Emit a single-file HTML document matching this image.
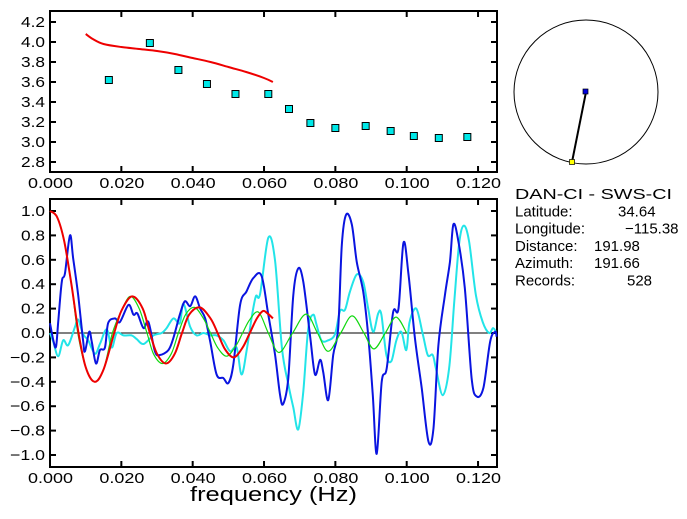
<!DOCTYPE html>
<html><head><meta charset="utf-8"><style>
html,body{margin:0;padding:0;background:#fff;}
svg{display:block;font-family:"Liberation Sans",sans-serif;}
</style></head><body>
<svg id="s" width="687" height="519" viewBox="0 0 687 519"></svg>
<script>
// ---- data ----
const topObsFreq=[0.0165,0.028,0.036,0.044,0.052,0.0612,0.067,0.073,0.080,0.0885,0.0955,0.102,0.109,0.117];
const topObsVel=[3.62,3.99,3.72,3.58,3.48,3.48,3.33,3.19,3.14,3.16,3.11,3.06,3.04,3.05];
const topModelFreq=[0.010,0.012,0.015,0.020,0.025,0.030,0.035,0.040,0.045,0.050,0.055,0.060,0.0625];
const topModelVel=[4.08,4.03,3.98,3.95,3.93,3.91,3.88,3.84,3.80,3.75,3.70,3.64,3.60];
const topYTicks=[2.8,3.0,3.2,3.4,3.6,3.8,4.0,4.2];
const xTicks=[0,0.02,0.04,0.06,0.08,0.10,0.12];
const xTickLabels=["0.000","0.020","0.040","0.060","0.080","0.100","0.120"];
const botYTicks=[-1.0,-0.8,-0.6,-0.4,-0.2,0.0,0.2,0.4,0.6,0.8,1.0];
const redF=[0,0.002,0.004,0.006,0.008,0.010,0.0125,0.015,0.018,0.020,0.023,0.026,0.028,0.030,0.0325,0.035,0.037,0.039,0.042,0.045,0.047,0.049,0.0515,0.054,0.056,0.058,0.0597,0.061,0.0625];
const redV=[1.0,0.95,0.75,0.4,0.0,-0.28,-0.40,-0.3,0.0,0.18,0.30,0.2,0.0,-0.17,-0.25,-0.17,0.0,0.15,0.21,0.12,0.0,-0.13,-0.20,-0.12,0.0,0.12,0.18,0.16,0.12];
const greenF=[0,0.002,0.004,0.006,0.0078,0.010,0.0125,0.015,0.0175,0.020,0.0225,0.025,0.0272,0.029,0.0315,0.034,0.036,0.038,0.0405,0.043,0.045,0.047,0.0495,0.052,0.054,0.056,0.0585,0.0612,0.0642,0.068,0.0718,0.075,0.078,0.0815,0.0847,0.088,0.0908,0.094,0.097,0.100];
const greenV=[1.0,0.95,0.75,0.4,0.0,-0.28,-0.40,-0.3,0.0,0.18,0.30,0.2,0.0,-0.17,-0.25,-0.17,0.0,0.15,0.21,0.12,0.0,-0.12,-0.19,-0.11,0.0,0.11,0.17,0.0,-0.16,0.0,0.155,0.0,-0.15,0.0,0.14,0.0,-0.13,0.0,0.13,0.0];
const blueF=[0,0.001,0.0017,0.0023,0.0033,0.0042,0.0056,0.0065,0.0079,0.0093,0.0098,0.011,0.0117,0.0129,0.014,0.0154,0.0163,0.0182,0.0196,0.022,0.0234,0.0245,0.0262,0.0276,0.0294,0.0308,0.0332,0.0346,0.0364,0.0378,0.0393,0.0407,0.0421,0.0435,0.0449,0.0467,0.0486,0.05,0.0514,0.0533,0.0551,0.057,0.0593,0.0612,0.0631,0.0645,0.0654,0.0668,0.0682,0.0696,0.071,0.0729,0.0743,0.0757,0.0766,0.078,0.0794,0.0808,0.0818,0.083,0.0846,0.086,0.0878,0.0892,0.0905,0.0916,0.093,0.0944,0.0962,0.0977,0.0991,0.1005,0.1023,0.1042,0.1061,0.1075,0.1089,0.1107,0.1121,0.1131,0.1145,0.1163,0.1182,0.1196,0.1215,0.1234,0.1248,0.1252];
const blueV=[0.08,-0.07,-0.11,0.09,0.42,0.49,0.80,0.61,0.31,-0.07,-0.15,0.01,-0.07,-0.25,-0.14,-0.12,0.08,0.12,0.09,0.23,0.15,0.16,0.04,0.09,-0.15,-0.18,-0.14,-0.04,0.15,0.26,0.22,0.30,0.20,0.12,-0.07,-0.34,-0.37,-0.41,-0.26,0.23,0.34,0.45,0.47,0.15,-0.18,-0.51,-0.58,-0.37,0.31,0.53,0.42,-0.02,-0.34,-0.22,-0.32,-0.55,-0.18,0.04,0.72,0.97,0.89,0.58,0.34,-0.02,-0.51,-0.99,-0.40,-0.29,0.17,0.20,0.74,0.48,-0.04,-0.45,-0.89,-0.78,-0.10,0.31,0.58,0.89,0.75,0.37,-0.37,-0.52,-0.45,-0.07,0.01,-0.03];
const cyanF=[0,0.0009,0.0023,0.0037,0.0051,0.007,0.0079,0.0093,0.0107,0.0126,0.014,0.0159,0.0173,0.0187,0.0206,0.0229,0.0243,0.0262,0.029,0.0313,0.0327,0.0346,0.0364,0.0374,0.0393,0.0411,0.043,0.0449,0.0467,0.0486,0.0505,0.0523,0.0537,0.0551,0.0565,0.0577,0.0589,0.0612,0.0631,0.065,0.0668,0.0682,0.0696,0.071,0.0724,0.0738,0.0747,0.0761,0.078,0.0799,0.0813,0.0827,0.0841,0.086,0.0878,0.0892,0.0906,0.092,0.0929,0.0943,0.0957,0.0971,0.0985,0.0999,0.1008,0.1027,0.1045,0.1059,0.1073,0.1082,0.1101,0.1119,0.1133,0.1147,0.116,0.1175,0.1194,0.1213,0.1231,0.1242,0.125];
const cyanV=[0.0,-0.07,-0.19,-0.06,-0.10,0.05,0.11,-0.01,-0.06,-0.17,-0.09,0.03,-0.12,0.0,-0.02,-0.02,-0.05,-0.09,-0.02,0.0,0.04,0.12,0.08,0.24,0.05,-0.02,0.0,-0.02,-0.02,-0.06,-0.15,-0.12,-0.34,-0.15,0.12,0.30,0.32,0.78,0.59,-0.12,-0.42,-0.61,-0.79,-0.48,0.04,0.15,0.07,-0.06,-0.06,-0.01,0.18,0.19,0.34,0.48,0.42,0.20,0.01,0.16,0.15,-0.18,-0.23,-0.06,0.01,-0.14,0.09,0.20,-0.01,-0.18,-0.18,-0.29,-0.51,-0.29,0.24,0.73,0.88,0.75,0.31,0.09,0.0,0.04,0.01];
const infoLabels=["DAN-CI  -  SWS-CI","Latitude:","Longitude:","Distance:","Azimuth:","Records:"];
const infoValues=["","34.64","-115.38","191.98","191.66","528"];

// ---- scales ----
const L=50,R=497;
const xS=f=>L+f*3567;
const yT=v=>142-(v-3)*100;
const yB=v=>333-v*122;
const NS="http://www.w3.org/2000/svg";
const svg=document.getElementById('s');
function mk(tag,attrs,parent){const e=document.createElementNS(NS,tag);for(const k in attrs)e.setAttribute(k,attrs[k]);(parent||svg).appendChild(e);return e;}
function smooth(F,V,ys,color,w,name){
  const P=F.map((f,i)=>[xS(f),ys(V[i])]);
  let d="M"+P[0][0].toFixed(1)+","+P[0][1].toFixed(1);
  for(let i=0;i<P.length-1;i++){
    const p0=P[Math.max(0,i-1)],p1=P[i],p2=P[i+1],p3=P[Math.min(P.length-1,i+2)];
    const c1=[p1[0]+(p2[0]-p0[0])/6,p1[1]+(p2[1]-p0[1])/6];
    const c2=[p2[0]-(p3[0]-p1[0])/6,p2[1]-(p3[1]-p1[1])/6];
    d+=" C"+c1.map(n=>n.toFixed(1)).join(",")+" "+c2.map(n=>n.toFixed(1)).join(",")+" "+p2.map(n=>n.toFixed(1)).join(",");
  }
  const p=mk('path',{d:d,fill:'none',stroke:color,'stroke-width':w,'stroke-linejoin':'round'});
  
  
}
function panel(top,bot,yTicks,ys,yfmt,name){
  const g=mk('g',{});
  
  
  mk('rect',{x:L,y:top,width:R-L,height:bot-top,fill:'none',stroke:'#000','stroke-width':2},g);
  xTicks.forEach((t,i)=>{
    const x=xS(t);
    if(i>0){mk('line',{x1:x,y1:bot,x2:x,y2:bot-6,stroke:'#000','stroke-width':2},g);
    mk('line',{x1:x,y1:top,x2:x,y2:top+6,stroke:'#000','stroke-width':2},g);}
    const tx=mk('text',{x:x-22,y:bot+16,'font-size':15,textLength:45,lengthAdjust:'spacingAndGlyphs'},g);
    tx.textContent=xTickLabels[i];
    
    
  });
  yTicks.forEach(v=>{
    const y=ys(v);
    mk('line',{x1:L,y1:y,x2:L+6,y2:y,stroke:'#000','stroke-width':2},g);
    mk('line',{x1:R,y1:y,x2:R-6,y2:y,stroke:'#000','stroke-width':2},g);
    const s=yfmt(v);
    const wl=v<-0.01?35:24;
    const tx=mk('text',{x:45-wl,y:y+5,'font-size':15,textLength:wl,lengthAdjust:'spacingAndGlyphs'},g);
    tx.textContent=s;
    
    
  });
}
panel(11,172,topYTicks,yT,v=>v.toFixed(1),'velocity-panel');
panel(199,467,botYTicks,yB,v=>(v<-0.01?"\u2212":"")+Math.abs(v).toFixed(1),'correlation-panel');

smooth(topModelFreq,topModelVel,yT,'#ee0000',2,'model-curve');
topObsFreq.forEach((f,i)=>{
  const x=xS(f),y=yT(topObsVel[i]);
  const r=mk('rect',{x:x-3.5,y:y-3.5,width:7,height:7,fill:'#00e8e8',stroke:'#000','stroke-width':1});
  
  
});
const zl=mk('line',{x1:L,y1:yB(0),x2:R,y2:yB(0),stroke:'#000','stroke-width':1});


smooth(cyanF,cyanV,yB,'#22e4e8',2,'cyan-series');
smooth(blueF,blueV,yB,'#0a14e0',2,'blue-series');
smooth(greenF,greenV,yB,'#10d810',1.2,'green-series');
smooth(redF,redV,yB,'#ee0000',2,'red-series');

const xl=mk('text',{x:190,y:501,'font-size':20,textLength:167,lengthAdjust:'spacingAndGlyphs'});
xl.textContent="frequency (Hz)";



const c=mk('circle',{cx:586,cy:92,r:72,fill:'none',stroke:'#000','stroke-width':1});


const pl=mk('line',{x1:586,y1:92,x2:572,y2:162,stroke:'#000','stroke-width':2});


const s1=mk('rect',{x:583,y:89,width:5,height:5,fill:'#0000dd',stroke:'#000','stroke-width':0.7});


const s2=mk('rect',{x:569.5,y:159.5,width:5,height:5,fill:'#ffff00',stroke:'#000','stroke-width':0.7});



const valX=[0,618,625,594,594,627];
infoLabels.forEach((lab,i)=>{
  const y=199+i*17.3;
  const t=mk('text',{x:515,y:y,'font-size':15});
  if(i===0){t.setAttribute('textLength',157);t.setAttribute('lengthAdjust','spacingAndGlyphs');}
  t.textContent=lab;
  
  
  if(infoValues[i]){
    const v=mk('text',{x:valX[i],y:y,'font-size':15});
    v.textContent=infoValues[i].replace('-','\u2212');
    
    
  }
});
</script>
</body></html>
